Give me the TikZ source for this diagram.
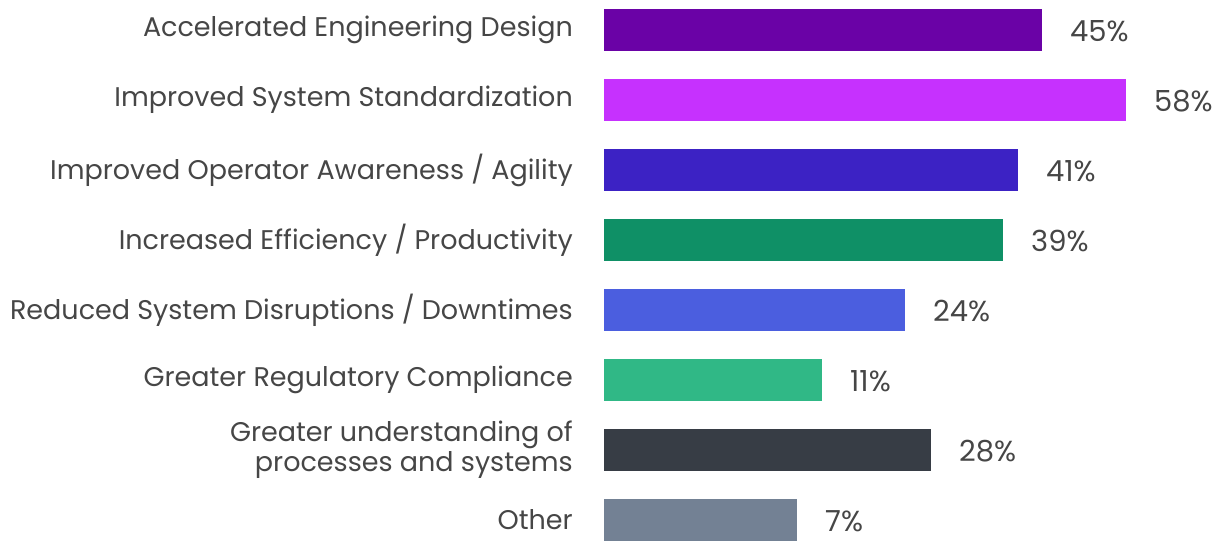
\documentclass[tikz,border=0pt]{standalone}
\usepackage{fontspec}
\setmainfont{Poppins}
\definecolor{cA}{HTML}{6A02A6}
\definecolor{cB}{HTML}{C631FE}
\definecolor{cC}{HTML}{3C22C4}
\definecolor{cD}{HTML}{0F9066}
\definecolor{cE}{HTML}{4B5EDF}
\definecolor{cF}{HTML}{30B886}
\definecolor{cG}{HTML}{373D45}
\definecolor{cH}{HTML}{738194}
\definecolor{txt}{HTML}{464646}
\tikzset{
  bar/.style={inner sep=0pt, outer sep=0pt, minimum height=42pt, anchor=north west},
  lab/.style={anchor=east, text=txt, inner sep=0pt, align=right, font=\fontsize{27}{30}\selectfont},
  pct/.style={anchor=west, text=txt, inner sep=0pt, font=\fontsize{29}{30}\selectfont},
}
\begin{document}
\begin{tikzpicture}[x=1pt,y=-1pt]
\useasboundingbox (0,0) rectangle (1222,543);
\foreach \i/\top/\len/\col/\p/\t in {
  1/9/438/cA/45\%/{Accelerated Engineering Design},
  2/79/522/cB/58\%/{Improved System Standardization},
  3/149/414/cC/41\%/{Improved Operator Awareness / Agility},
  4/219/399/cD/39\%/{Increased Efficiency / Productivity},
  5/289/301/cE/24\%/{Reduced System Disruptions / Downtimes},
  6/359/218/cF/11\%/{Greater Regulatory Compliance},
  7/429/327/cG/28\%/{Greater understanding of\\processes and systems},
  8/499/193/cH/7\%/{Other}}
{
  \node[bar, fill=\col, minimum width=\len pt] (b\i) at (604,\top) {};
  \node[pct] (p\i) at ([xshift=28pt,yshift=-1pt]b\i.east) {\p};
  \node[lab] (l\i) at (573,\top+21) {\t};
}
\end{tikzpicture}
\end{document}
